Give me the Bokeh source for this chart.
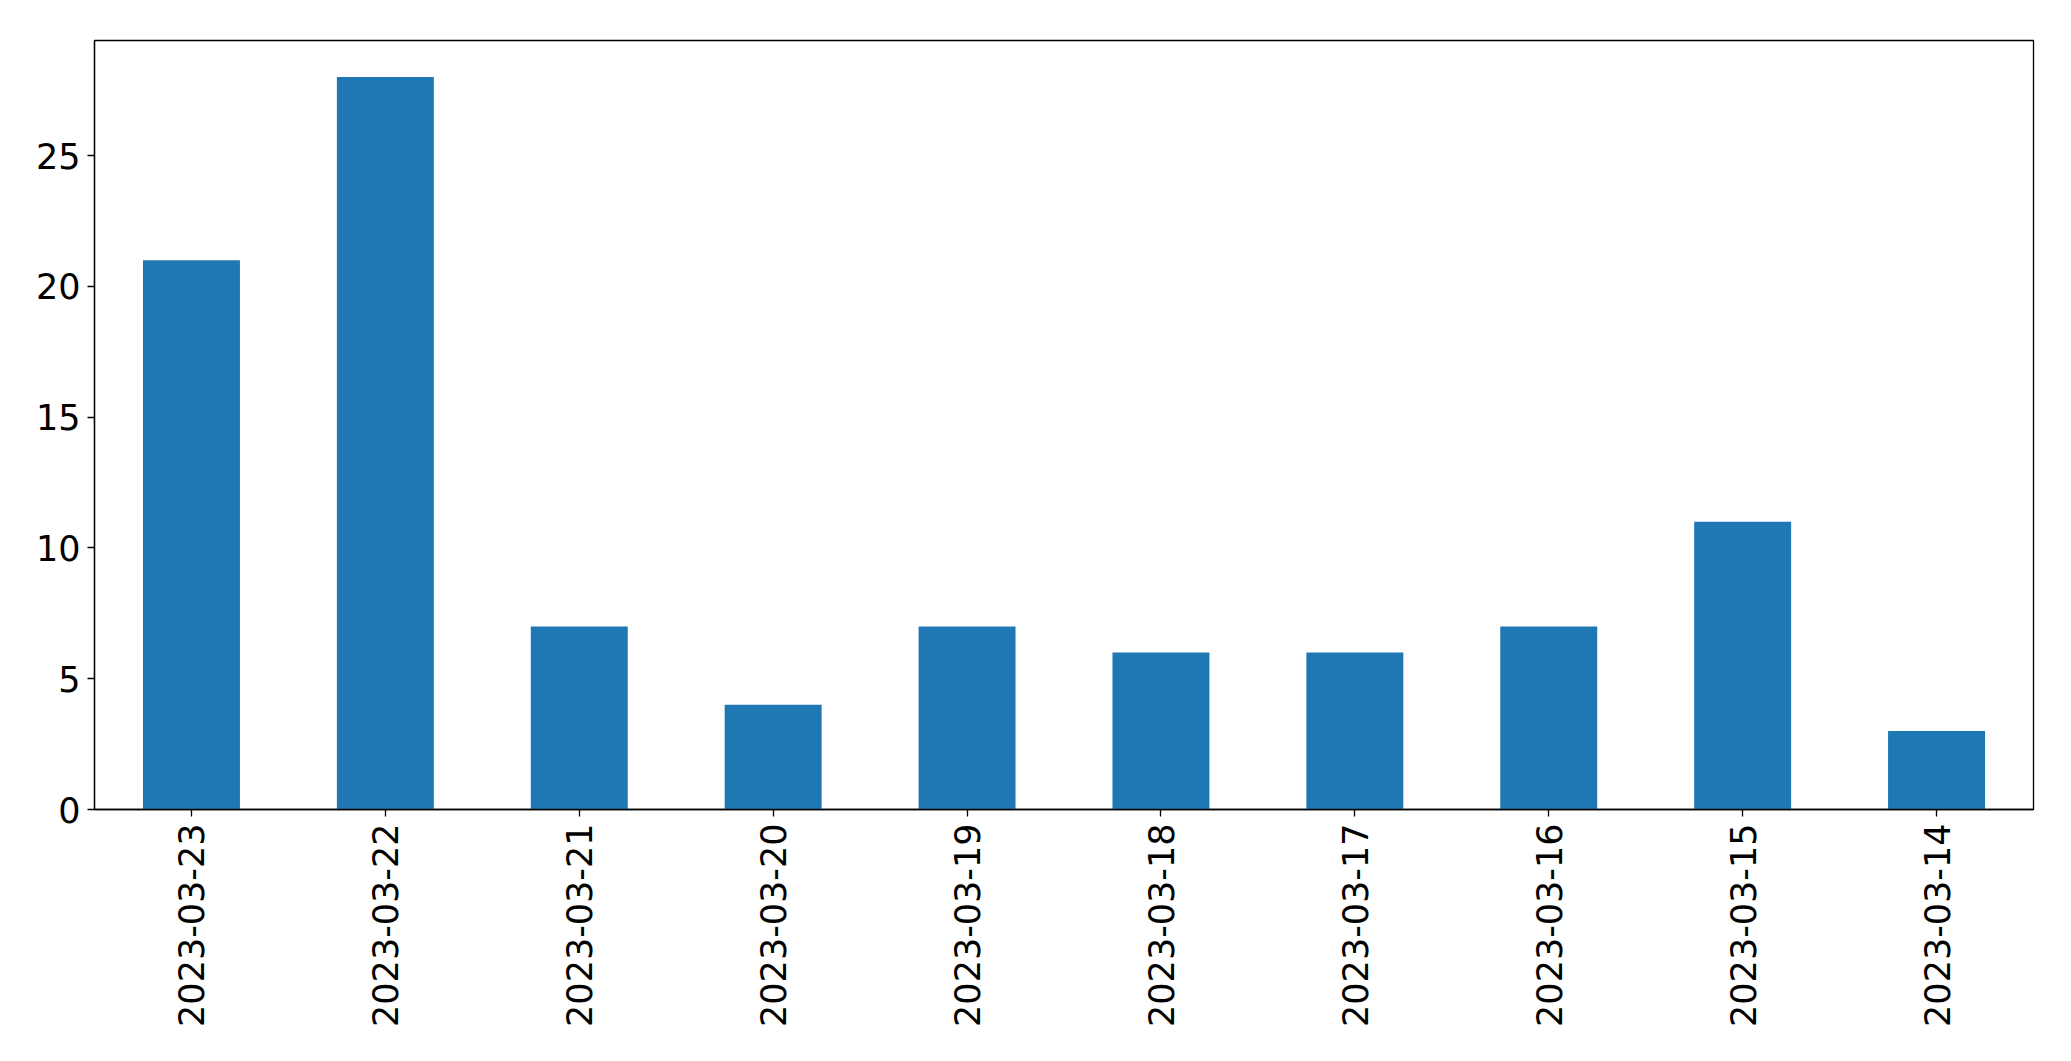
import math
from bokeh.plotting import figure
from bokeh.models import FactorRange, Range1d, FixedTicker, ColumnDataSource
from bokeh.embed import file_html
from bokeh.resources import INLINE

dates = ["2023-03-23", "2023-03-22", "2023-03-21", "2023-03-20", "2023-03-19",
         "2023-03-18", "2023-03-17", "2023-03-16", "2023-03-15", "2023-03-14"]
counts = [21, 28, 7, 4, 7, 6, 6, 7, 11, 3]
y_ticks = [0, 5, 10, 15, 20, 25]

src = ColumnDataSource(dict(date=dates, count=counts))

p = figure(x_range=FactorRange(*dates, range_padding=0), y_range=Range1d(0, 29.4),
           frame_width=1939, frame_height=769,
           min_border_left=94, min_border_top=40, min_border_right=22, min_border_bottom=220,
           output_backend="svg", toolbar_location=None)

p.vbar(x="date", top="count", width=0.5, source=src, color="#1f77b4", line_color=None)

p.xgrid.grid_line_color = None
p.ygrid.grid_line_color = None
p.outline_line_color = "black"
p.outline_line_width = 1.3
p.outline_line_alpha = 1

p.yaxis.ticker = FixedTicker(ticks=y_ticks)
p.yaxis.minor_tick_line_color = None
for ax in (p.xaxis, p.yaxis):
    ax.axis_line_color = "black"
    ax.axis_line_width = 1.3
    ax.major_tick_line_color = "black"
    ax.major_tick_line_width = 1.3
    ax.major_tick_out = 7
    ax.major_tick_in = 0
    ax.major_label_text_font = "DejaVu Sans"
    ax.major_label_text_font_size = "35px"
    ax.major_label_text_color = "black"
    ax.major_label_standoff = 7

p.xaxis.major_label_orientation = math.pi / 2
p.x_range.range_padding = 0

open("out.html", "w").write(file_html(p, INLINE))
